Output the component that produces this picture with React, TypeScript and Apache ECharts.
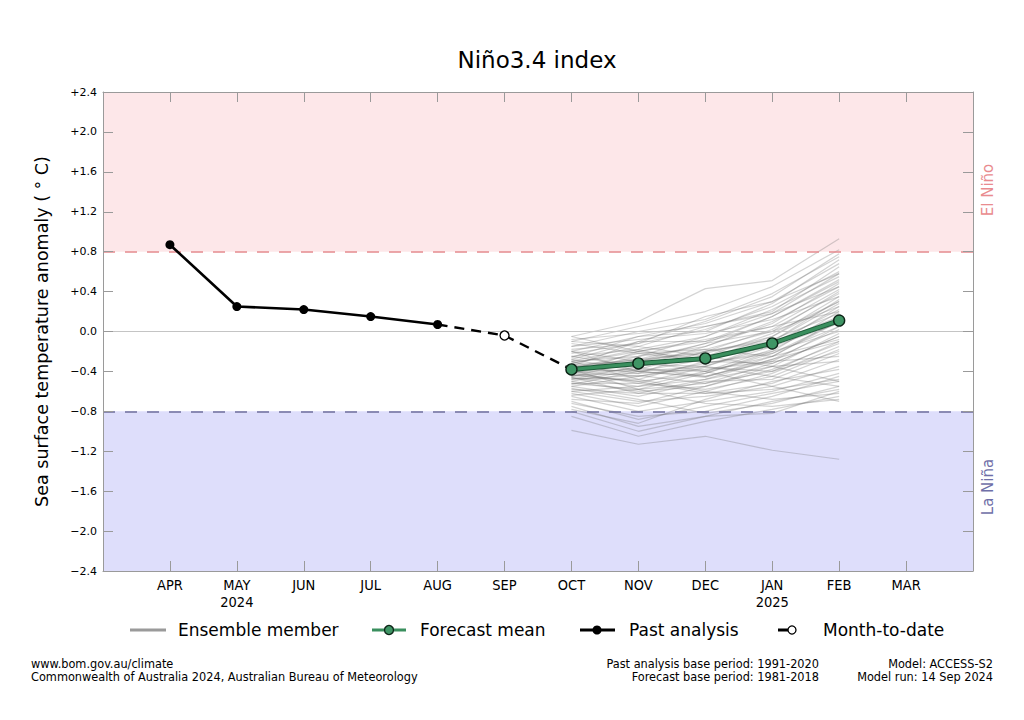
import React, { useEffect, useRef } from "react";
import * as echarts from "echarts";

const monthLabels = ["APR", "MAY\n2024", "JUN", "JUL", "AUG", "SEP", "OCT", "NOV", "DEC", "JAN\n2025", "FEB", "MAR"];
const yTicks = [-2.4, -2.0, -1.6, -1.2, -0.8, -0.4, 0, 0.4, 0.8, 1.2, 1.6, 2.0, 2.4];

// Past analysis APR..AUG (index 0..4)
const pastX = [0, 1, 2, 3, 4];
const pastValues = [0.87, 0.25, 0.22, 0.15, 0.07];
// Month-to-date link AUG -> SEP -> OCT
const mtdX = [4, 5, 6];
const mtdValues = [0.07, -0.04, -0.38];
// Forecast mean OCT..FEB
const fcX = [6, 7, 8, 9, 10];
const meanValues = [-0.38, -0.32, -0.27, -0.12, 0.11];

// Ensemble members OCT..FEB
const ensemble: number[][] = [
  [-0.05, 0.10, 0.43, 0.51, 0.93],
  [-0.10, 0.05, 0.20, 0.45, 0.82],
  [-0.15, 0.00, 0.12, 0.38, 0.75],
  [-0.20, -0.05, 0.08, 0.30, 0.68],
  [-0.22, -0.12, 0.02, 0.25, 0.60],
  [-0.25, -0.18, -0.05, 0.22, 0.55],
  [-0.28, -0.10, -0.10, 0.15, 0.50],
  [-0.30, -0.25, -0.15, 0.10, 0.45],
  [-0.32, -0.20, -0.08, 0.05, 0.42],
  [-0.33, -0.30, -0.20, 0.02, 0.38],
  [-0.35, -0.28, -0.22, -0.05, 0.35],
  [-0.36, -0.35, -0.25, -0.02, 0.30],
  [-0.37, -0.22, -0.30, -0.10, 0.28],
  [-0.38, -0.40, -0.28, -0.15, 0.25],
  [-0.39, -0.33, -0.35, -0.12, 0.22],
  [-0.40, -0.45, -0.32, -0.20, 0.20],
  [-0.41, -0.38, -0.40, -0.18, 0.15],
  [-0.42, -0.30, -0.18, -0.25, 0.12],
  [-0.43, -0.50, -0.42, -0.22, 0.10],
  [-0.44, -0.42, -0.38, -0.30, 0.05],
  [-0.45, -0.36, -0.45, -0.28, 0.02],
  [-0.46, -0.55, -0.48, -0.35, -0.02],
  [-0.47, -0.48, -0.30, -0.32, -0.05],
  [-0.48, -0.44, -0.52, -0.40, -0.10],
  [-0.50, -0.60, -0.55, -0.38, -0.12],
  [-0.52, -0.52, -0.58, -0.45, -0.18],
  [-0.55, -0.65, -0.50, -0.48, -0.22],
  [-0.58, -0.62, -0.62, -0.52, -0.28],
  [-0.60, -0.70, -0.65, -0.55, -0.35],
  [-0.65, -0.80, -0.70, -0.60, -0.42],
  [-0.70, -0.88, -0.75, -0.62, -0.50],
  [-0.75, -0.95, -0.85, -0.70, -0.58],
  [-0.85, -1.05, -0.90, -0.78, -0.65],
  [-0.99, -1.13, -1.05, -1.19, -1.28],
  [-0.20, -0.30, -0.40, -0.55, -0.70],
  [-0.10, -0.15, -0.25, -0.35, -0.50],
  [-0.05, -0.20, -0.10, 0.05, 0.20],
  [-0.15, -0.08, -0.02, 0.12, 0.35],
  [-0.25, -0.35, -0.15, 0.08, 0.48],
  [-0.30, -0.15, 0.05, 0.20, 0.65],
  [-0.35, -0.10, 0.10, 0.35, 0.78],
  [-0.40, -0.25, -0.05, 0.18, 0.58],
  [-0.45, -0.30, -0.12, 0.00, 0.40],
  [-0.50, -0.38, -0.20, -0.08, 0.18],
  [-0.55, -0.45, -0.35, -0.15, 0.08],
  [-0.60, -0.55, -0.40, -0.25, -0.08],
  [-0.62, -0.75, -0.60, -0.42, -0.15],
  [-0.68, -0.72, -0.55, -0.35, -0.30],
  [-0.72, -0.85, -0.80, -0.65, -0.45],
  [-0.78, -0.92, -0.68, -0.50, -0.38],
  [-0.30, -0.48, -0.60, -0.68, -0.62],
  [-0.38, -0.58, -0.72, -0.75, -0.68],
  [-0.20, -0.40, -0.35, -0.45, -0.55],
  [-0.42, -0.20, -0.28, -0.05, 0.30],
  [-0.28, -0.40, -0.45, -0.30, -0.25],
  [-0.48, -0.35, -0.25, -0.12, 0.15],
  [-0.52, -0.58, -0.42, -0.20, 0.00],
  [-0.36, -0.28, -0.12, 0.15, 0.52],
  [-0.44, -0.50, -0.62, -0.58, -0.48],
  [-0.32, -0.18, -0.32, -0.22, 0.05],
  [-0.57, -0.68, -0.82, -0.72, -0.55],
  [-0.26, -0.05, 0.00, 0.28, 0.72],
  [-0.12, -0.22, -0.18, 0.00, 0.25],
  [-0.46, -0.62, -0.48, -0.28, -0.10],
  [-0.80, -1.00, -0.85, -0.82, -0.60],
  [-0.18, -0.12, 0.15, 0.30, 0.58],
  [-0.34, -0.42, -0.20, -0.10, 0.32],
  [-0.41, -0.52, -0.36, -0.40, -0.20],
  [-0.53, -0.40, -0.46, -0.25, 0.10],
  [-0.64, -0.58, -0.52, -0.32, -0.05],
  [-0.08, -0.02, 0.05, 0.18, 0.45],
];

const ELNINO = 0.8;
const LANINA = -0.8;

const FONT = "DejaVu Sans";
const FONT_C = "'DejaVu Sans Condensed', 'DejaVu Sans'";

function fmtY(v: number): string {
  const r = Math.round(v * 10) / 10;
  if (r > 0) return "+" + r.toFixed(1);
  if (r < 0) return "\u2212" + Math.abs(r).toFixed(1);
  return "0.0";
}

export default function App() {
  const ref = useRef<HTMLDivElement>(null);
  useEffect(() => {
    if (!ref.current) return;
    const chart = echarts.init(ref.current, undefined, { renderer: "svg" });
    const zip = (xs: number[], ys: number[]) => xs.map((x, i) => [x, ys[i]]);
    const axisColor = "#9a9a9a";

    const ensembleSeries = ensemble.map((m) => ({
      type: "line",
      data: zip(fcX, m),
      symbol: "none",
      silent: true,
      z: 2,
      lineStyle: { color: "rgba(110,110,110,0.3)", width: 1.2 },
    }));

    const baseAxis = (pos: string) => ({
      type: "value",
      position: pos,
      z: 10,
      axisLine: { show: true, onZero: false, lineStyle: { color: axisColor, width: 1 } },
      axisTick: { show: true, inside: true, length: 10, lineStyle: { color: axisColor } },
      splitLine: { show: false },
    });

    const legendY = 630;
    const ftStyle = { fontFamily: FONT_C, fontSize: 12.6, fill: "#000", textVerticalAlign: "middle" };
    const option: any = {
      animation: false,
      backgroundColor: "#ffffff",
      grid: { left: 103, right: 51, top: 92, bottom: 149, show: false },
      xAxis: [
        {
          ...baseAxis("bottom"),
          min: -1,
          max: 12,
          interval: 1,
          axisLabel: {
            formatter: (v: number) => (v >= 0 && v < monthLabels.length ? monthLabels[v] : ""),
            fontFamily: FONT_C,
            fontSize: 14.5,
            lineHeight: 17,
            color: "#000",
            margin: 5,
            verticalAlign: "top",
          },
        },
        {
          ...baseAxis("top"),
          min: -1,
          max: 12,
          interval: 1,
          axisLabel: { show: false },
        },
      ],
      yAxis: [
        {
          ...baseAxis("left"),
          min: yTicks[0],
          max: yTicks[yTicks.length - 1],
          interval: 0.4,
          name: "Sea surface temperature anomaly ( ° C)",
          nameLocation: "middle",
          nameGap: 52,
          nameTextStyle: { fontFamily: FONT, fontSize: 17.5, color: "#000" },
          axisLabel: { formatter: fmtY, fontFamily: FONT, fontSize: 11, color: "#000", margin: 6 },
        },
        {
          ...baseAxis("right"),
          min: yTicks[0],
          max: yTicks[yTicks.length - 1],
          interval: 0.4,
          axisLabel: { show: false },
        },
      ],
      series: [
        {
          type: "line",
          data: [],
          z: 0,
          silent: true,
          markArea: {
            silent: true,
            data: [
              [
                { xAxis: -1, yAxis: ELNINO, itemStyle: { color: "#fde7e9" } },
                { xAxis: 12, yAxis: yTicks[yTicks.length - 1] },
              ],
              [
                { xAxis: -1, yAxis: yTicks[0], itemStyle: { color: "#dedefb" } },
                { xAxis: 12, yAxis: LANINA },
              ],
            ],
          },
          markLine: {
            silent: true,
            symbol: "none",
            label: { show: false },
            data: [
              { yAxis: 0, lineStyle: { color: "#c4c4c4", width: 1.2, type: "solid" } },
              { yAxis: ELNINO, lineStyle: { color: "#e58a8e", width: 1.6, type: [12, 10] } },
              { yAxis: LANINA, lineStyle: { color: "#6f6f9c", width: 1.6, type: [12, 10] } },
            ],
          },
        },
        ...ensembleSeries,
        {
          type: "line",
          data: zip(mtdX, mtdValues),
          z: 5,
          symbol: (_v: any, p: any) => (p.dataIndex === 1 ? "circle" : "none"),
          symbolSize: 9,
          itemStyle: { color: "#ffffff", borderColor: "#000", borderWidth: 1.3 },
          lineStyle: { color: "#000", width: 2.4, type: [10, 7] },
        },
        {
          type: "line",
          data: zip(pastX, pastValues),
          z: 6,
          symbol: "circle",
          symbolSize: 9,
          itemStyle: { color: "#000" },
          lineStyle: { color: "#000", width: 2.6 },
        },
        {
          type: "line",
          data: zip(fcX, meanValues),
          z: 7,
          symbol: "none",
          lineStyle: { color: "#1f5c3a", width: 5 },
        },
        {
          type: "line",
          data: zip(fcX, meanValues),
          z: 8,
          symbol: "circle",
          symbolSize: 11,
          itemStyle: { color: "#3f9565", borderColor: "#0d2417", borderWidth: 1.4 },
          lineStyle: { color: "#3a8f5e", width: 3 },
        },
      ],
      graphic: [
        { type: "text", x: 537, y: 60, style: { text: "Niño3.4 index", fontFamily: FONT, fontSize: 23, fill: "#000", textAlign: "center", textVerticalAlign: "middle" } },
        { type: "text", x: 988, y: 190, rotation: Math.PI / 2, style: { text: "El Niño", fill: "#e98b8e", fontFamily: FONT, fontSize: 15, textAlign: "center", textVerticalAlign: "middle" } },
        { type: "text", x: 988, y: 487, rotation: Math.PI / 2, style: { text: "La Niña", fill: "#6f6fa8", fontFamily: FONT, fontSize: 15, textAlign: "center", textVerticalAlign: "middle" } },
        // legend
        { type: "line", shape: { x1: 130, y1: legendY, x2: 166, y2: legendY }, style: { stroke: "#9a9a9a", lineWidth: 3 } },
        { type: "text", x: 178, y: legendY, style: { text: "Ensemble member", fontFamily: FONT, fontSize: 17, fill: "#000", textVerticalAlign: "middle" } },
        { type: "line", shape: { x1: 372, y1: legendY, x2: 406, y2: legendY }, style: { stroke: "#3a8f5e", lineWidth: 3 } },
        { type: "circle", shape: { cx: 389, cy: legendY, r: 4.5 }, style: { fill: "#3f9565", stroke: "#0d2417", lineWidth: 1.3 } },
        { type: "text", x: 420, y: legendY, style: { text: "Forecast mean", fontFamily: FONT, fontSize: 17, fill: "#000", textVerticalAlign: "middle" } },
        { type: "line", shape: { x1: 580, y1: legendY, x2: 615, y2: legendY }, style: { stroke: "#000", lineWidth: 3 } },
        { type: "circle", shape: { cx: 597, cy: legendY, r: 4.5 }, style: { fill: "#000" } },
        { type: "text", x: 629, y: legendY, style: { text: "Past analysis", fontFamily: FONT, fontSize: 17, fill: "#000", textVerticalAlign: "middle" } },
        { type: "line", shape: { x1: 778, y1: legendY, x2: 788, y2: legendY }, style: { stroke: "#000", lineWidth: 3 } },
        { type: "circle", shape: { cx: 792, cy: legendY, r: 4 }, style: { fill: "#fff", stroke: "#000", lineWidth: 1.3 } },
        { type: "text", x: 823, y: legendY, style: { text: "Month-to-date", fontFamily: FONT, fontSize: 17, fill: "#000", textVerticalAlign: "middle" } },
        // footer
        { type: "text", x: 31, y: 663, style: { ...ftStyle, text: "www.bom.gov.au/climate" } },
        { type: "text", x: 31, y: 676, style: { ...ftStyle, text: "Commonwealth of Australia 2024, Australian Bureau of Meteorology" } },
        { type: "text", x: 819, y: 663, style: { ...ftStyle, text: "Past analysis base period: 1991-2020", textAlign: "right" } },
        { type: "text", x: 819, y: 676, style: { ...ftStyle, text: "Forecast base period: 1981-2018", textAlign: "right" } },
        { type: "text", x: 993, y: 663, style: { ...ftStyle, text: "Model: ACCESS-S2", textAlign: "right" } },
        { type: "text", x: 993, y: 676, style: { ...ftStyle, text: "Model run: 14 Sep 2024", textAlign: "right" } },
      ],
    };
    chart.setOption(option);
    return () => chart.dispose();
  }, []);
  return (
    <div
      ref={ref}
      style={{ position: "fixed", left: 0, top: 0, width: 1024, height: 720, background: "#fff" }}
    />
  );
}
